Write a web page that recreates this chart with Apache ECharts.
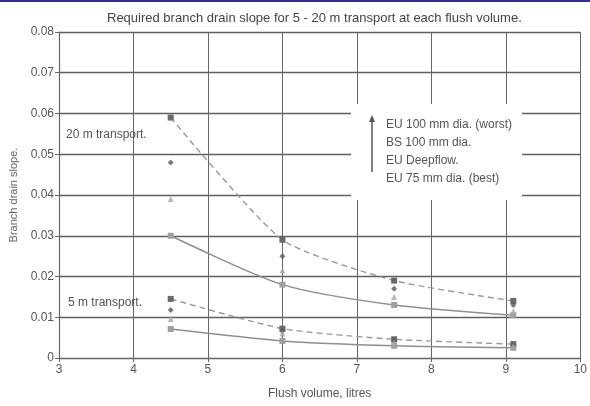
<!DOCTYPE html>
<html>
<head>
<meta charset="utf-8">
<script src="https://cdn.jsdelivr.net/npm/echarts@6/dist/echarts.min.js"></script>
<style>
  html, body { margin: 0; padding: 0; background: #fff; }
</style>
</head>
<body>
<div id="container" style="width:590px;height:406px"></div>
<script>
// flush volumes (litres)
var flushVol = [4.5, 6, 7.5, 9.1];

// 20 m transport
var eu100_20 = [0.059, 0.029, 0.019, 0.014];
var bs100_20 = [0.048, 0.025, 0.017, 0.013];
var deep_20  = [0.039, 0.0215, 0.015, 0.0115];
var eu75_20  = [0.030, 0.018, 0.013, 0.0105];

// 5 m transport
var eu100_5 = [0.0145, 0.0072, 0.0046, 0.0034];
var bs100_5 = [0.0118, 0.0066, 0.0042, 0.0031];
var deep_5  = [0.0096, 0.0060, 0.0038, 0.0029];
var eu75_5  = [0.0071, 0.0042, 0.0030, 0.0025];

var legendLines = ['EU 100 mm dia. (worst)', 'BS 100 mm dia.', 'EU Deepflow.', 'EU 75 mm dia. (best)'];

function pts(vals) {
    var out = [];
    for (var i = 0; i < vals.length; i++) {
        out.push([flushVol[i], vals[i]]);
    }
    return out;
}

var font = 'Liberation Sans, Arial, sans-serif';

function dashedLine(vals) {
    return {
        type: 'line', data: pts(vals), smooth: 0.2,
        symbol: 'rect', symbolSize: 6,
        itemStyle: { color: '#6a6a6a' },
        lineStyle: { color: '#9a9a9a', width: 1.4, type: [6, 4] },
        z: 3
    };
}
function solidLine(vals) {
    return {
        type: 'line', data: pts(vals), smooth: 0.25,
        symbol: 'rect', symbolSize: 6,
        itemStyle: { color: '#a0a0a0' },
        lineStyle: { color: '#8f8f8f', width: 1.5 },
        z: 3
    };
}
function dots(vals, shape, col) {
    return {
        type: 'scatter', data: pts(vals),
        symbol: shape, symbolSize: 6,
        itemStyle: { color: col },
        z: 4
    };
}

var myChart = echarts.init(document.getElementById('container'));

var legendText = [];
for (var i = 0; i < legendLines.length; i++) {
    legendText.push({
        type: 'text', left: 386, top: 119 + i * 18, z: 101,
        style: { text: legendLines[i], fill: '#555', font: '12px ' + font }
    });
}

var option = {
    animation: false,
    backgroundColor: '#fff',
    title: {
        text: 'Required branch drain slope for 5 - 20 m transport at each flush volume.',
        left: 102, top: 7,
        textStyle: { fontSize: 13, fontWeight: 'normal', color: '#444', fontFamily: font }
    },
    grid: { left: 59, right: 6, top: 32, bottom: 48 },
    xAxis: {
        type: 'value', min: 3, max: 10, interval: 1,
        name: 'Flush volume, litres', nameLocation: 'middle', nameGap: 30,
        nameTextStyle: { fontSize: 12, color: '#555', fontFamily: font },
        axisLine: { show: true, lineStyle: { color: '#666', width: 1.2 } },
        axisTick: { show: true, length: 4, lineStyle: { color: '#666' } },
        axisLabel: { fontSize: 12, color: '#555', fontFamily: font, margin: 6 },
        splitLine: { show: true, lineStyle: { color: '#666', width: 1 } }
    },
    yAxis: {
        type: 'value', min: 0, max: 0.08, interval: 0.01,
        name: 'Branch drain slope.', nameLocation: 'middle', nameGap: 38,
        nameTextStyle: { fontSize: 11, color: '#666', fontFamily: font },
        axisLine: { show: true, lineStyle: { color: '#666', width: 1.2 } },
        axisTick: { show: true, length: 4, lineStyle: { color: '#666' } },
        axisLabel: {
            fontSize: 12, color: '#555', fontFamily: font, margin: 5,
            formatter: function (v) { return v === 0 ? '0' : v.toFixed(2); }
        },
        splitLine: { show: true, lineStyle: { color: '#5f5f5f', width: 1.3 } }
    },
    series: [
        dashedLine(eu100_20),
        dots(bs100_20, 'diamond', '#5a5a5a'),
        dots(deep_20, 'triangle', '#a8a8a8'),
        solidLine(eu75_20),
        dashedLine(eu100_5),
        dots(bs100_5, 'diamond', '#5a5a5a'),
        dots(deep_5, 'triangle', '#a8a8a8'),
        solidLine(eu75_5)
    ],
    graphic: [
        { type: 'rect', left: 0, top: 0, z: 100, shape: { width: 590, height: 2 }, style: { fill: '#2e2e96' } },
        { type: 'rect', left: 351, top: 104, z: 100, shape: { width: 171, height: 96 }, style: { fill: '#fff' } },
        { type: 'line', z: 101, shape: { x1: 372, y1: 172, x2: 372, y2: 121 }, style: { stroke: '#555', lineWidth: 1.5 } },
        { type: 'polygon', z: 101, shape: { points: [[369, 122], [375, 122], [372, 115]] }, style: { fill: '#555' } },
        { type: 'text', left: 66, top: 129, z: 101, style: { text: '20 m transport.', fill: '#555', font: '12px ' + font } },
        { type: 'text', left: 68, top: 297, z: 101, style: { text: '5 m transport.', fill: '#555', font: '12px ' + font } }
    ].concat(legendText)
};

if (option && typeof option === 'object') {
    myChart.setOption(option);
}
</script>
</body>
</html>
